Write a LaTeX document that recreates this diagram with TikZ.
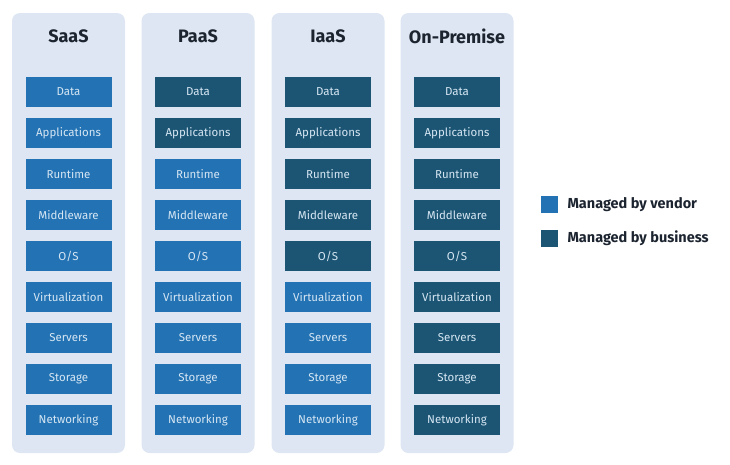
\documentclass[tikz,border=0pt]{standalone}
\usepackage{fontspec}
\setmainfont{Fira Sans}
\usepackage{xcolor}

\definecolor{panelbg}{RGB}{221,230,242}
\definecolor{vendorblue}{RGB}{34,114,180}
\definecolor{bizblue}{RGB}{27,85,115}
\definecolor{boxtext}{RGB}{214,230,243}
\definecolor{headtext}{RGB}{28,36,48}

\tikzset{
  panel/.style={fill=panelbg, rounded corners=8pt, inner sep=0pt,
    minimum width=113pt, minimum height=440pt},
  vendor/.style={fill=vendorblue, text=boxtext, inner sep=0pt,
    minimum width=86pt, minimum height=30pt, font=\fontsize{11.5}{13}\selectfont},
  business/.style={vendor, fill=bizblue},
  head/.style={text=headtext, font=\bfseries\fontsize{18}{22}\selectfont},
  keybox/.style={inner sep=0pt, minimum size=17pt},
  keytext/.style={text=headtext, anchor=west, font=\fontsize{14.5}{17}\selectfont\bfseries},
}

\begin{document}
\begin{tikzpicture}[x=1pt, y=-1pt]

\useasboundingbox (0,0) rectangle (730,464);

% --- one column: panel, title, nine layers (the first #4 managed by business) ---
\newcommand{\servicecol}[4]{%
  \node[panel] (#1-panel) at (#2,233) {};
  \node[head] (#1-head) at (#2,36) {#3};
  \foreach \lab [count=\i] in {Data,Applications,Runtime,Middleware,{O/S},%
      Virtualization,Servers,Storage,Networking}{
    \ifnum\i>#4 \def\sty{vendor}\else\def\sty{business}\fi
    \node[\sty] (#1-\i) at (#2,51+41*\i) {\lab};
  }
}

% --- columns ---
\servicecol{saas}{68.5}{SaaS}{0}
\servicecol{paas}{198}{PaaS}{2}
\servicecol{iaas}{328}{IaaS}{5}
\servicecol{onprem}{457}{On-Premise}{9}

% --- legend ---
\node[keybox, fill=vendorblue] (key-vendor) at (549.5,204.5) {};
\node[keybox, fill=bizblue] (key-biz) at (549.5,238.5) {};
\node[keytext] (key-vendor-lab) at (564,204.5) {Managed by vendor};
\node[keytext] (key-biz-lab) at (564,238.5) {Managed by business};

\end{tikzpicture}
\end{document}
